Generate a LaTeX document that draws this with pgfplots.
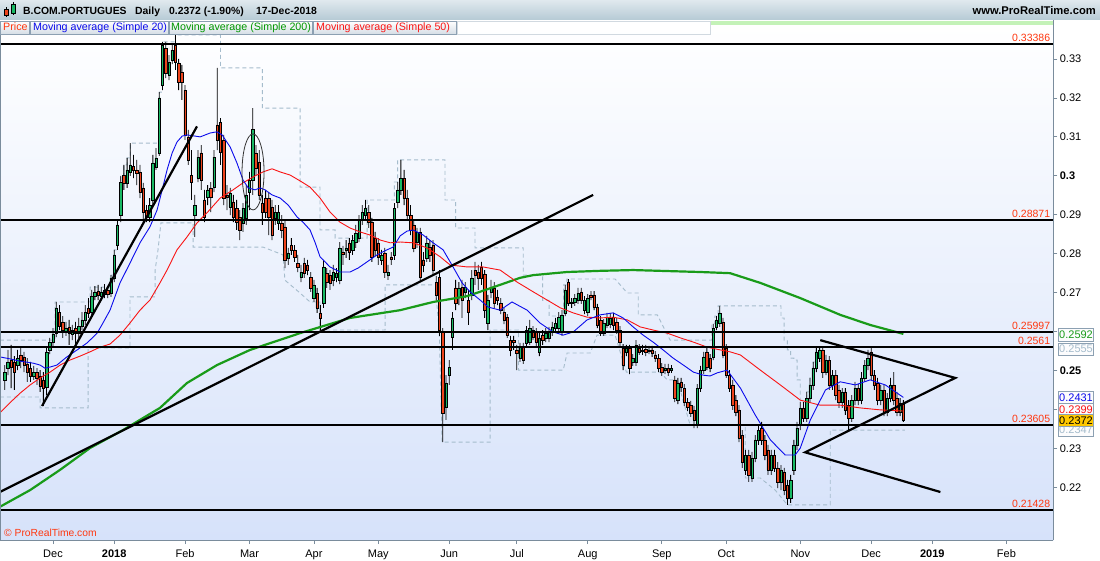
\documentclass[border=0pt]{standalone}
\usepackage{fontspec}
\setmainfont{Liberation Sans}
\usepackage{pgfplots}
\usepackage{pgfplotstable}
\pgfplotsset{compat=1.18}

\definecolor{upc}{RGB}{25,185,100}
\definecolor{dnc}{RGB}{238,68,28}
\definecolor{lblc}{RGB}{255,55,15}
\definecolor{chanc}{RGB}{165,188,204}
\definecolor{ma20c}{RGB}{10,10,235}
\definecolor{ma50c}{RGB}{250,20,20}
\definecolor{ma200c}{RGB}{25,155,25}
\definecolor{legg}{RGB}{0,150,0}
\definecolor{axc}{RGB}{122,140,156}
\definecolor{bgb}{RGB}{214,226,250}
\definecolor{hdt}{RGB}{224,233,238}
\definecolor{hdb}{RGB}{182,202,213}
\definecolor{boxb}{RGB}{140,160,178}
\definecolor{boxf}{RGB}{214,222,230}
\definecolor{stripc}{RGB}{196,242,184}
\definecolor{gold}{RGB}{255,200,0}

% daily candles: trading day index (0 = 1 Dec 2017), open, high, low, close
\pgfplotstableread{
n o h l c
-15 .2476 .2514 .2450 .2496
-14 .2506 .2553 .2488 .2522
-13 .2527 .2566 .2455 .2509
-12 .2522 .2537 .2450 .2496
-11 .2514 .2553 .2501 .2532
-10 .2540 .2558 .2506 .2527
-9 .2535 .2548 .2496 .2514
-8 .2517 .2532 .2471 .2496
-7 .2506 .2522 .2471 .2486
-6 .2486 .2512 .2476 .2496
-5 .2496 .2506 .2463 .2481
-4 .2486 .2501 .2445 .2460
-3 .2476 .2496 .2409 .2455
-2 .2458 .2558 .2437 .2548
-1 .2553 .2584 .2542 .2573
0 .2573 .2609 .2563 .2594
1 .2596 .2676 .2586 .2661
2 .2650 .2668 .2604 .2614
3 .2625 .2640 .2584 .2604
4 .2599 .2625 .2589 .2609
5 .2612 .2630 .2566 .2596
6 .2594 .2617 .2578 .2604
7 .2609 .2625 .2566 .2596
8 .2596 .2635 .2584 .2614
9 .2614 .2650 .2604 .2630
10 .2630 .2668 .2617 .2650
11 .2660 .2686 .2635 .2648
12 .2650 .2707 .2640 .2691
13 .2691 .2717 .2681 .2702
14 .2704 .2720 .2681 .2694
15 .2691 .2714 .2684 .2702
16 .2696 .2722 .2686 .2707
17 .2707 .2717 .2686 .2696
18 .2699 .2745 .2689 .2738
19 .2738 .2810 .2727 .2797
20 .2822 .2887 .2810 .2874
21 .2899 .3000 .2881 .2984
22 .3002 .3028 .2964 .2982
23 .2982 .3046 .2969 .3015
24 .3010 .3084 .3000 .3028
25 .3025 .3054 .2994 .3015
26 .3015 .3041 .2976 .3007
27 .3010 .3028 .2943 .2958
28 .2969 .2982 .2881 .2907
29 .2912 .2925 .2881 .2894
30 .2894 .2943 .2881 .2925
31 .2938 .3054 .2925 .3033
32 .3023 .3071 .3015 .3046
33 .3059 .3215 .3051 .3200
34 .3233 .3344 .3220 .3336
35 .3328 .3344 .3251 .3264
36 .3259 .3310 .3246 .3292
37 .3297 .3339 .3287 .3323
38 .3336 .3362 .3272 .3292
39 .3290 .3300 .3220 .3241
40 .3267 .3285 .3195 .3241
41 .3220 .3233 .3092 .3105
42 .3100 .3118 .3028 .3041
43 .3002 .3066 .2938 .2984
44 .2899 .2951 .2843 .2925
45 .2994 .3066 .2984 .3048
46 .3059 .3079 .2964 .2989
47 .2938 .2964 .2881 .2894
48 .2946 .2976 .2925 .2964
49 .2969 .2984 .2907 .2946
50 .2971 .3066 .2958 .3048
51 .3131 .3277 .3066 .3092
52 .3138 .3148 .3028 .3061
53 .3092 .3105 .2925 .2943
54 .2951 .2976 .2912 .2946
55 .2920 .2969 .2899 .2956
56 .2933 .2951 .2881 .2894
57 .2917 .2938 .2861 .2881
58 .2894 .2912 .2835 .2861
59 .2879 .2930 .2856 .2917
60 .2892 .2976 .2874 .2951
61 .2958 .3010 .2912 .2989
62 .2989 .3174 .2951 .3120
63 .3059 .3079 .3002 .3020
64 .3036 .3066 .2938 .2951
65 .2930 .2951 .2874 .2907
66 .2943 .2964 .2892 .2907
67 .2943 .2958 .2848 .2894
68 .2920 .2938 .2835 .2848
69 .2892 .2925 .2874 .2907
70 .2879 .2925 .2861 .2907
71 .2879 .2899 .2840 .2861
72 .2869 .2887 .2763 .2784
73 .2789 .2815 .2771 .2802
74 .2822 .2840 .2797 .2810
75 .2810 .2822 .2779 .2792
76 .2776 .2797 .2753 .2766
77 .2740 .2771 .2727 .2753
78 .2776 .2789 .2738 .2750
79 .2771 .2784 .2745 .2758
80 .2740 .2753 .2702 .2712
81 .2686 .2733 .2676 .2720
82 .2699 .2712 .2648 .2661
83 .2648 .2668 .2604 .2635
84 .2673 .2784 .2661 .2766
85 .2750 .2763 .2712 .2727
86 .2745 .2758 .2707 .2725
87 .2733 .2771 .2717 .2753
88 .2740 .2763 .2727 .2750
89 .2733 .2830 .2722 .2815
90 .2804 .2820 .2771 .2799
91 .2810 .2835 .2789 .2815
92 .2828 .2840 .2784 .2804
93 .2810 .2848 .2797 .2835
94 .2830 .2874 .2815 .2853
95 .2840 .2899 .2830 .2887
96 .2887 .2925 .2874 .2907
97 .2899 .2938 .2887 .2917
98 .2907 .2925 .2866 .2881
99 .2881 .2892 .2779 .2792
100 .2840 .2856 .2794 .2810
101 .2828 .2840 .2771 .2792
102 .2784 .2810 .2771 .2797
103 .2802 .2815 .2738 .2753
104 .2745 .2771 .2733 .2753
105 .2792 .2804 .2771 .2786
106 .2797 .2930 .2784 .2917
107 .2933 .2984 .2917 .2964
108 .2964 .3041 .2951 .2994
109 .2994 .3015 .2925 .2943
110 .2943 .2964 .2887 .2899
111 .2899 .2925 .2848 .2861
112 .2874 .2887 .2804 .2815
113 .2830 .2866 .2815 .2856
114 .2856 .2866 .2727 .2740
115 .2784 .2804 .2753 .2771
116 .2789 .2846 .2779 .2828
117 .2817 .2835 .2779 .2797
118 .2822 .2835 .2743 .2758
119 .2727 .2743 .2681 .2694
120 .2740 .2758 .2589 .2604
121 .2599 .2609 .2316 .2391
122 .2406 .2488 .2373 .2468
123 .2488 .2527 .2463 .2509
124 .2586 .2650 .2553 .2635
125 .2712 .2733 .2655 .2673
126 .2689 .2727 .2668 .2712
127 .2714 .2733 .2635 .2681
128 .2702 .2727 .2686 .2714
129 .2681 .2707 .2617 .2650
130 .2694 .2758 .2681 .2738
131 .2758 .2779 .2720 .2745
132 .2753 .2771 .2707 .2738
133 .2766 .2779 .2720 .2738
134 .2748 .2758 .2635 .2655
135 .2622 .2694 .2604 .2681
136 .2702 .2733 .2686 .2712
137 .2712 .2727 .2661 .2673
138 .2689 .2707 .2668 .2681
139 .2673 .2686 .2645 .2655
140 .2650 .2661 .2619 .2630
141 .2637 .2645 .2584 .2591
142 .2578 .2589 .2537 .2553
143 .2578 .2589 .2553 .2573
144 .2553 .2566 .2501 .2545
145 .2532 .2571 .2522 .2560
146 .2560 .2571 .2517 .2527
147 .2571 .2614 .2563 .2604
148 .2573 .2630 .2566 .2609
149 .2604 .2614 .2578 .2586
150 .2599 .2609 .2560 .2573
151 .2548 .2599 .2537 .2584
152 .2591 .2604 .2566 .2578
153 .2584 .2609 .2573 .2596
154 .2584 .2612 .2573 .2599
155 .2599 .2625 .2589 .2612
156 .2609 .2635 .2599 .2622
157 .2609 .2650 .2599 .2637
158 .2599 .2655 .2589 .2643
159 .2648 .2720 .2640 .2707
160 .2727 .2735 .2666 .2673
161 .2673 .2686 .2661 .2676
162 .2676 .2696 .2666 .2686
163 .2681 .2712 .2671 .2699
164 .2702 .2712 .2671 .2681
165 .2655 .2691 .2645 .2681
166 .2650 .2696 .2640 .2686
167 .2694 .2704 .2681 .2689
168 .2694 .2704 .2655 .2663
169 .2663 .2671 .2609 .2617
170 .2630 .2640 .2589 .2596
171 .2596 .2632 .2589 .2622
172 .2617 .2648 .2609 .2637
173 .2620 .2648 .2609 .2635
174 .2637 .2648 .2604 .2617
175 .2625 .2635 .2594 .2604
176 .2604 .2614 .2563 .2573
177 .2558 .2568 .2501 .2514
178 .2548 .2566 .2537 .2558
179 .2558 .2566 .2491 .2506
180 .2522 .2542 .2512 .2532
181 .2522 .2578 .2512 .2566
182 .2558 .2568 .2540 .2548
183 .2553 .2566 .2540 .2550
184 .2555 .2566 .2537 .2548
185 .2550 .2563 .2542 .2553
186 .2553 .2563 .2535 .2545
187 .2540 .2550 .2522 .2532
188 .2532 .2542 .2496 .2506
189 .2509 .2519 .2486 .2496
190 .2501 .2517 .2491 .2506
191 .2506 .2517 .2486 .2496
192 .2501 .2514 .2494 .2506
193 .2476 .2486 .2419 .2429
194 .2424 .2481 .2414 .2468
195 .2471 .2481 .2445 .2458
196 .2455 .2465 .2409 .2419
197 .2419 .2429 .2396 .2406
198 .2411 .2422 .2381 .2391
199 .2399 .2409 .2352 .2373
200 .2360 .2465 .2352 .2455
201 .2455 .2512 .2445 .2501
202 .2501 .2548 .2491 .2535
203 .2548 .2558 .2501 .2509
204 .2532 .2542 .2496 .2506
205 .2535 .2620 .2527 .2609
206 .2612 .2640 .2604 .2630
207 .2622 .2666 .2612 .2648
208 .2625 .2635 .2532 .2540
209 .2558 .2568 .2481 .2488
210 .2488 .2501 .2445 .2455
211 .2463 .2476 .2399 .2411
212 .2424 .2437 .2383 .2394
213 .2399 .2411 .2316 .2327
214 .2334 .2347 .2250 .2265
215 .2245 .2296 .2232 .2283
216 .2283 .2296 .2214 .2232
217 .2224 .2291 .2214 .2275
218 .2275 .2334 .2265 .2322
219 .2322 .2360 .2309 .2347
220 .2352 .2368 .2309 .2322
221 .2322 .2334 .2270 .2283
222 .2296 .2309 .2232 .2245
223 .2245 .2296 .2232 .2283
224 .2283 .2296 .2240 .2250
225 .2250 .2265 .2198 .2214
226 .2214 .2257 .2193 .2245
227 .2240 .2250 .2180 .2193
228 .2206 .2219 .2155 .2173
229 .2173 .2232 .2160 .2219
230 .2245 .2322 .2232 .2309
231 .2309 .2368 .2296 .2352
232 .2360 .2419 .2347 .2404
233 .2404 .2419 .2368 .2378
234 .2378 .2445 .2368 .2429
235 .2429 .2481 .2419 .2463
236 .2463 .2522 .2450 .2506
237 .2506 .2558 .2496 .2548
238 .2532 .2560 .2522 .2553
239 .2553 .2558 .2481 .2496
240 .2496 .2540 .2488 .2527
241 .2527 .2537 .2450 .2463
242 .2463 .2501 .2450 .2488
243 .2488 .2501 .2424 .2437
244 .2450 .2463 .2404 .2419
245 .2419 .2455 .2404 .2445
246 .2445 .2455 .2386 .2399
247 .2411 .2424 .2347 .2378
248 .2378 .2437 .2368 .2424
249 .2424 .2471 .2411 .2455
250 .2455 .2465 .2411 .2424
251 .2424 .2496 .2414 .2481
252 .2481 .2527 .2471 .2514
253 .2514 .2553 .2501 .2532
254 .2548 .2558 .2476 .2488
255 .2488 .2501 .2450 .2463
256 .2468 .2481 .2411 .2424
257 .2424 .2463 .2411 .2450
258 .2450 .2463 .2383 .2394
259 .2394 .2442 .2383 .2429
260 .2429 .2481 .2419 .2463
261 .2463 .2496 .2411 .2424
262 .2429 .2445 .2383 .2394
263 .2394 .2429 .2383 .2417
264 .2414 .2424 .2368 .2372
}\candles

\pgfplotstableread{
n p
-16.5 .2535
-13.4 .2530
-10.2 .2524
-6.2 .2519
-4.0 .2514
-2.5 .2506
-0.9 .2509
1.2 .2514
4.3 .2535
7.5 .2553
10.6 .2571
13.7 .2596
15.5 .2622
17.7 .2655
20.8 .2725
23.9 .2776
27.0 .2828
30.1 .2869
32.3 .2912
33.9 .2964
35.4 .3015
37.0 .3059
38.5 .3087
40.1 .3102
41.6 .3105
44.1 .3102
45.7 .3100
48.8 .3110
50.9 .3113
52.5 .3105
55.0 .3074
57.1 .3033
59.0 .2989
60.6 .2969
62.7 .2964
64.3 .2969
65.8 .2964
68.0 .2951
70.5 .2943
73.0 .2925
75.8 .2894
77.6 .2881
79.8 .2861
81.4 .2828
82.9 .2792
86.0 .2766
89.1 .2753
92.2 .2753
94.7 .2763
97.5 .2779
100.6 .2797
103.7 .2810
105.6 .2817
107.8 .2846
109.9 .2858
111.8 .2861
114.9 .2848
118.0 .2828
121.1 .2810
124.2 .2766
127.0 .2725
129.5 .2702
132.6 .2681
135.1 .2663
138.8 .2655
142.5 .2676
147.2 .2655
151.2 .2622
155.3 .2599
158.4 .2591
161.5 .2599
165.8 .2630
169.9 .2643
173.9 .2648
177.0 .2635
180.1 .2612
183.2 .2591
186.3 .2573
189.4 .2553
192.5 .2532
195.7 .2514
198.8 .2496
201.9 .2488
204.0 .2486
206.2 .2494
209.3 .2501
213.4 .2455
218.0 .2386
222.7 .2322
227.3 .2283
230.4 .2283
232.0 .2301
235.1 .2373
239.8 .2450
244.4 .2471
249.1 .2463
253.7 .2476
258.4 .2463
264.0 .2431
}\maTwenty

\pgfplotstableread{
n p
-16.5 .2391
-13.4 .2417
-10.2 .2442
-7.1 .2463
-4.0 .2481
-0.9 .2496
2.2 .2514
5.3 .2527
8.4 .2537
11.5 .2548
14.6 .2560
17.7 .2568
20.8 .2591
23.9 .2622
27.0 .2655
30.1 .2681
33.2 .2725
35.4 .2758
38.5 .2810
41.6 .2843
44.7 .2879
47.8 .2905
51.9 .2943
55.9 .2964
59.0 .2982
62.1 .2997
65.2 .3010
68.0 .3018
70.5 .3010
73.6 .3002
76.7 .2987
79.8 .2971
82.9 .2943
86.0 .2907
89.1 .2881
92.2 .2866
95.3 .2856
98.4 .2848
101.6 .2835
104.7 .2828
107.8 .2830
111.8 .2828
116.1 .2815
120.2 .2792
123.3 .2771
128.6 .2766
133.5 .2766
138.8 .2758
144.1 .2727
149.1 .2702
153.4 .2681
157.5 .2661
161.5 .2648
165.8 .2637
169.9 .2635
173.9 .2637
178.3 .2630
182.3 .2612
186.3 .2604
190.7 .2596
194.7 .2584
198.8 .2573
203.1 .2560
207.1 .2553
210.2 .2548
213.4 .2540
219.6 .2501
225.8 .2463
232.0 .2424
238.2 .2411
244.4 .2411
250.6 .2404
256.8 .2399
264.0 .2396
}\maFifty

\pgfplotstableread{
n p
-16.5 .2150
-7.1 .2193
2.2 .2245
11.5 .2301
21.7 .2347
33.2 .2404
41.6 .2468
50.9 .2514
61.2 .2553
76.7 .2596
92.2 .2635
107.8 .2655
118.0 .2676
128.6 .2691
138.8 .2720
145.0 .2738
149.1 .2745
159.6 .2753
169.9 .2756
180.1 .2758
200.9 .2753
210.2 .2750
219.6 .2725
232.0 .2686
244.4 .2643
253.7 .2617
264.0 .2594
}\maTwoHundred

\pgfplotstableread{
n p
-16.5 .2578
0.6 .2578
0.6 .2676
11.5 .2676
11.5 .2714
18 .2714
18 .2745
19 .2745
19 .2810
20 .2810
20 .2887
21 .2887
21 .3000
22 .3000
22 .3028
23 .3028
23 .3046
24 .3046
24 .3084
33 .3084
33 .3215
34 .3215
34 .3344
38 .3344
38 .3362
52 .3362
52 .3277
65 .3277
65 .3174
76.7 .3174
76.7 .2971
82.9 .2971
82.9 .2861
87.6 .2861
87.6 .2840
97.5 .2840
97.5 .2938
106 .2938
106 .2984
107 .2984
107 .3041
121.7 .3041
121.7 .2938
125 .2938
125 .2866
131 .2866
131 .2815
146 .2815
146 .2745
152 .2745
152 .2680
154 .2680
154 .2640
158.5 .2640
158.5 .2720
159.5 .2720
159.5 .2735
174.5 .2735
178.3 .2699
181.7 .2699
181.7 .2643
187.6 .2643
191.6 .2578
204.5 .2578
204.5 .2620
205.5 .2620
205.5 .2640
206.5 .2640
206.5 .2666
226 .2666
226 .2635
227 .2635
227 .2578
228 .2578
228 .2553
229 .2553
229 .2532
230 .2532
230 .2527
231 .2527
231 .2476
232 .2476
232 .2419
234 .2419
234 .2445
235 .2445
235 .2481
236 .2481
236 .2522
237 .2522
237 .2558
238 .2558
238 .2560
264.5 .2560
}\chanUp

\pgfplotstableread{
n p
-16.5 .2432
-4.0 .2432
-4.0 .2404
10.9 .2404
10.9 .2558
23.9 .2558
23.9 .2689
31.7 .2689
31.7 .2758
32.6 .2810
33.5 .2879
43.5 .2879
43.5 .2817
65.2 .2817
71.4 .2797
72.0 .2732
76.7 .2699
79.8 .2676
82.9 .2676
82.9 .2604
103.1 .2604
103.1 .2720
118.9 .2720
118.9 .2694
119.9 .2604
120.8 .2316
135.7 .2316
135.7 .2604
144.5 .2604
144.5 .2501
158.4 .2501
159.6 .2545
166.8 .2545
168.9 .2591
174.5 .2591
178.0 .2496
188.5 .2496
190.7 .2476
193.8 .2476
197.8 .2360
214.9 .2360
214.9 .2224
219.6 .2224
224.2 .2193
228.0 .2155
241.3 .2155
241.3 .2347
264.5 .2347
}\chanLow

\pgfplotsset{
  chartbase/.style={at={(0pt,20pt)}, anchor=south west, scale only axis,
    width=1053pt, height=515pt, xmin=-16.46, xmax=310.56,
    ymin=0.20648, ymax=0.33873, enlargelimits=false},
}

\newcommand{\pbox}[4]{%
  \node[anchor=west, xshift=5pt, minimum width=35pt, minimum height=12.5pt,
    inner sep=0pt, draw=#3, fill=#4, text=#2,
    font=\fontsize{11}{12}\selectfont] at (axis cs:310.56,#1) {#1};}

\begin{document}
\begin{tikzpicture}
\useasboundingbox (0pt,0pt) rectangle (1100pt,560pt);

% price scale, date scale, background and price channel
\begin{axis}[chartbase,
  axis background/.style={top color=white, bottom color=bgb},
  axis line style={draw=none},
  tick align=outside, major tick length=4pt,
  major tick style={axc, line width=0.8pt},
  xtick pos=left, ytick pos=right, yticklabel pos=right,
  tick label style={font=\fontsize{11}{13}\selectfont},
  xticklabel style={yshift=-2pt},
  yticklabel style={xshift=-1pt},
  xtick={0,19,41,61,81,101,123,144,166,189,209,232,254,273,296},
  xticklabels={Dec,\textbf{2018},Feb,Mar,Apr,May,Jun,Jul,Aug,Sep,Oct,Nov,Dec,\textbf{2019},Feb},
  ytick={0.22,0.23,0.24,0.25,0.26,0.27,0.28,0.29,0.30,0.31,0.32,0.33},
  yticklabels={0.22,0.23,,\textbf{0.25},,0.27,0.28,0.29,\textbf{0.3},0.31,0.32,0.33},
]
\addplot[chanc, line width=0.9pt, dash pattern=on 4pt off 3pt] table[x=n, y=p] {\chanUp};
\addplot[chanc, line width=0.9pt, dash pattern=on 4pt off 3pt] table[x=n, y=p] {\chanLow};
\end{axis}

% wicks
\begin{axis}[chartbase, hide axis, ybar stacked, bar width=0.8pt]
\addplot[draw=none, fill=none] table[x=n, y=l] {\candles};
\addplot[draw=none, fill=black] table[x=n, y expr=\thisrow{h}-\thisrow{l}] {\candles};
\end{axis}

% bodies
\begin{axis}[chartbase, hide axis, ybar stacked, bar width=2.4pt]
\addplot[draw=none, fill=none] table[x=n, y expr={min(\thisrow{o},\thisrow{c})}] {\candles};
\addplot[draw=black, line width=0.5pt, fill=upc] table[x=n, y expr={max(\thisrow{c}-\thisrow{o},0)}] {\candles};
\addplot[draw=black, line width=0.5pt, fill=dnc] table[x=n, y expr={max(\thisrow{o}-\thisrow{c},0)}] {\candles};
\end{axis}

% moving averages, drawn lines, labels
\begin{axis}[chartbase, hide axis, clip mode=individual]
\addplot[ma200c, line width=2.2pt] table[x=n, y=p] {\maTwoHundred};
\addplot[ma50c, line width=0.9pt] table[x=n, y=p] {\maFifty};
\addplot[ma20c, line width=0.9pt] table[x=n, y=p] {\maTwenty};

\pgfplotsinvokeforeach{0.33386,0.28871,0.25997,0.2561,0.23605,0.21428}{
  \addplot[black, line width=2pt] coordinates {(-16.46,#1) (310.56,#1)};
  \node[anchor=base east, inner sep=0pt, xshift=-3pt, yshift=2.5pt, text=lblc,
    font=\fontsize{10.5}{12}\selectfont] at (axis cs:310.56,#1) {#1};
}

\addplot[black, line width=2.2pt] coordinates {(-3.4,0.2409) (44.7,0.3127)};
\addplot[black, line width=2.2pt] coordinates {(-16.5,0.2188) (167.7,0.2951)};
\addplot[black, line width=2.2pt] coordinates {(238.2,0.2578) (280.1,0.2481) (233.5,0.2290) (275.5,0.2188)};
\draw[black!80, line width=0.8pt] (axis cs:62.1,0.3010) ellipse [x radius=11pt, y radius=38pt];

\pbox{0.2592}{ma200c}{boxb}{white!92!boxf}
\pbox{0.2555}{chanc}{boxb}{white!92!boxf}
\pbox{0.2431}{ma20c}{boxb}{white!92!boxf}
\pbox{0.2399}{ma50c}{boxb}{white!92!boxf}
\pbox{0.2347}{chanc}{boxb}{white!92!boxf}
\pbox{0.2372}{black}{boxb}{gold}
\end{axis}

% frame
\draw[axc, line width=1pt] (0.5pt,20pt) -- (0.5pt,540pt);
\draw[axc, line width=1pt] (0pt,20pt) -- (1053pt,20pt);
\draw[axc, line width=1pt] (1053pt,20pt) -- (1053pt,540pt);
\fill[white] (0pt,535pt) rectangle (1052.5pt,540pt);
\fill[stripc] (710pt,535pt) rectangle (1052.5pt,538.5pt);

\node[anchor=west, inner sep=0pt, text=lblc, font=\fontsize{10.3}{12}\selectfont]
  at (4pt,27pt) {\textcopyright\ ProRealTime.com};

% header bar
\shade[top color=hdt, bottom color=hdb] (0pt,540pt) rectangle (1100pt,560pt);
\draw[black, line width=0.4pt, fill=dnc] (4.5pt,545pt) rectangle (8.5pt,551pt);
\draw[black, line width=0.4pt] (6.5pt,543pt) -- (6.5pt,545pt) (6.5pt,551pt) -- (6.5pt,553pt);
\draw[black, line width=0.4pt, fill=upc] (11.5pt,547pt) rectangle (15.5pt,556pt);
\draw[black, line width=0.4pt] (13.5pt,545pt) -- (13.5pt,547pt) (13.5pt,556pt) -- (13.5pt,558pt);
\begin{scope}[every node/.style={anchor=base west, inner sep=0pt, font=\bfseries\fontsize{10.4}{12}\selectfont}]
\node at (23pt,545pt) {B.COM.PORTUGUES};
\node at (135pt,545pt) {Daily};
\node at (169pt,545pt) {0.2372 (-1.90\%)};
\node at (256pt,545pt) {17-Dec-2018};
\node[anchor=base east, font=\bfseries\fontsize{11.2}{12}\selectfont] at (1096pt,545pt) {www.ProRealTime.com};
\end{scope}

% legend row
\foreach \a/\b in {0/29.5, 30/168.5, 169/312.5, 313/456}{
  \shade[top color=white, bottom color=boxf] (\a pt,526pt) rectangle (\b pt,539pt);
  \draw[boxb, line width=0.6pt] (\a pt,526pt) rectangle (\b pt,539pt);
}
\draw[boxb!40, line width=0.6pt] (457pt,526pt) rectangle (710pt,539pt);
\begin{scope}[every node/.style={anchor=base west, inner sep=0pt, font=\fontsize{10.7}{12}\selectfont}]
\node[text=lblc] at (3pt,529.5pt) {Price};
\node[text=ma20c] at (33pt,529.5pt) {Moving average (Simple 20)};
\node[text=legg] at (171pt,529.5pt) {Moving average (Simple 200)};
\node[text=ma50c] at (316pt,529.5pt) {Moving average (Simple 50)};
\end{scope}
\end{tikzpicture}
\end{document}
